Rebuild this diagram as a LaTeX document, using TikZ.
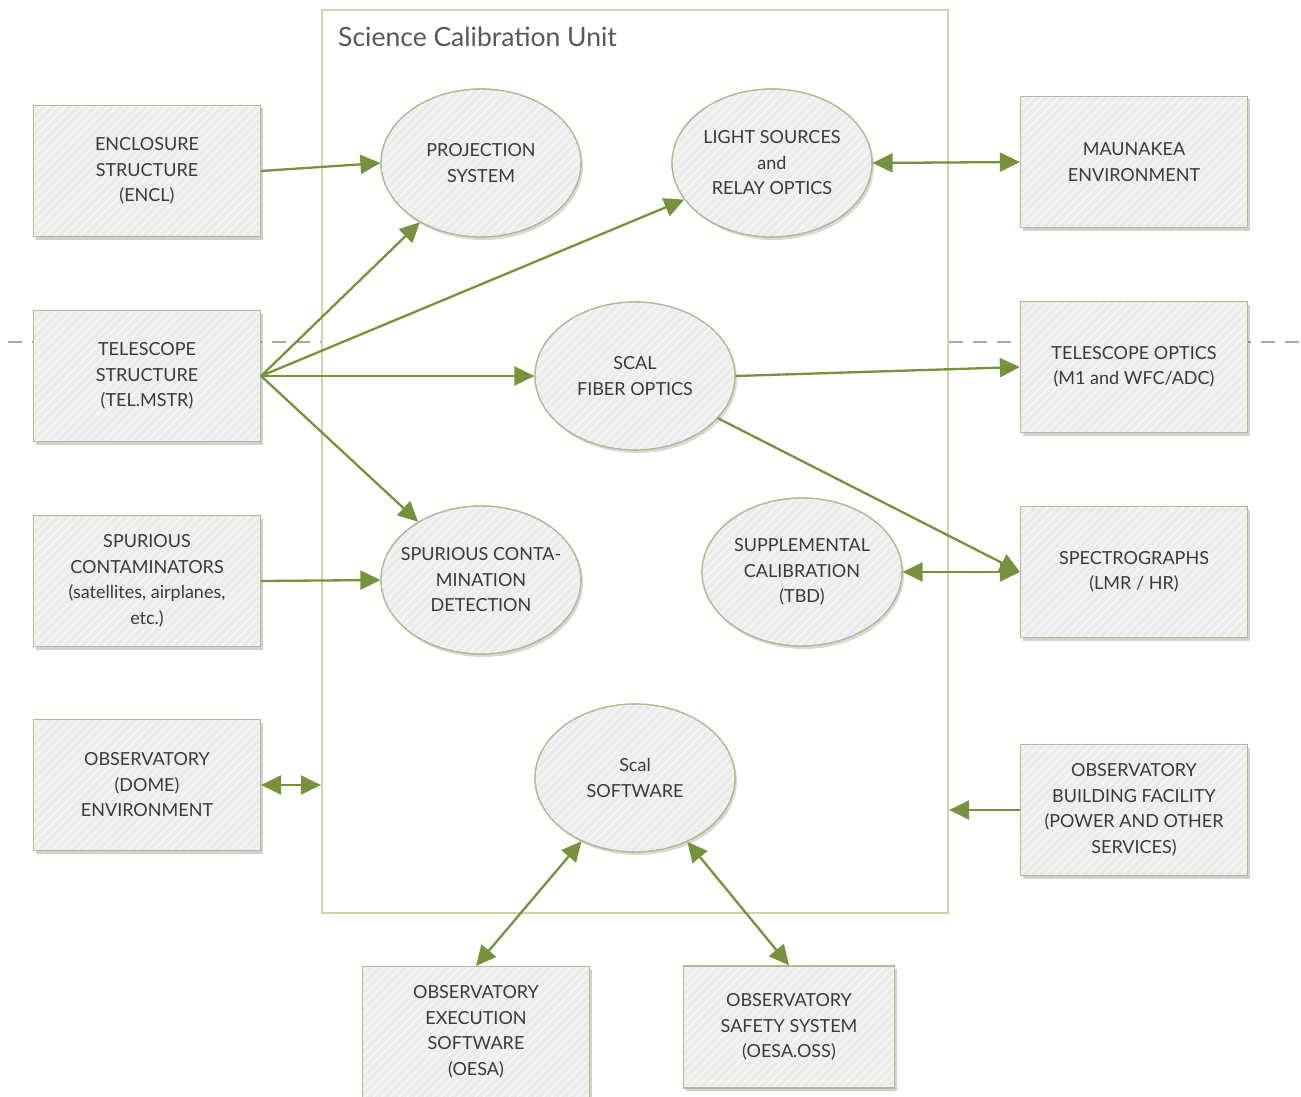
\documentclass[tikz,border=0pt]{standalone}
\usepackage{fontspec}
\setmainfont{Lato}
\usetikzlibrary{arrows.meta,shapes.geometric,shadows,patterns.meta}
\definecolor{arrg}{HTML}{76923C}
\definecolor{scub}{HTML}{CBD5A8}
\definecolor{boxb}{HTML}{B3BA92}
\definecolor{boxf}{HTML}{ECECEC}
\definecolor{txt}{HTML}{3A3A3A}
\definecolor{dashc}{HTML}{A8A8A8}
\tikzset{
  hatch/.style={postaction={pattern={Lines[angle=45, distance=6pt, line width=1.4pt]}, pattern color=white!60!boxf, draw=boxb, line width=1.2pt}},
  extbox/.style={rectangle, draw=boxb, line width=1.2pt, fill=boxf, hatch,
    minimum width=227pt, minimum height=131pt, align=center, text=txt,
    font=\fontsize{18}{25.5}\selectfont,
    drop shadow={shadow xshift=2pt, shadow yshift=-3pt, opacity=0.18, fill=black}},
  func/.style={ellipse, draw=boxb, line width=1.2pt, fill=boxf, hatch,
    minimum width=200pt, minimum height=148pt, inner sep=-30pt, align=center, text=txt,
    font=\fontsize{18}{25.5}\selectfont,
    drop shadow={shadow xshift=2pt, shadow yshift=-3pt, opacity=0.15, fill=black}},
  flow/.style={draw=arrg, line width=2.3pt, -{Triangle[length=20pt,width=19pt]}},
  bflow/.style={draw=arrg, line width=2.3pt, {Triangle[length=20pt,width=19pt]}-{Triangle[length=20pt,width=19pt]}},
  dline/.style={draw=dashc, line width=1.3pt, dash pattern=on 14pt off 10pt}
}
\begin{document}
\begin{tikzpicture}[x=1pt,y=-1pt]
\useasboundingbox (0,0) rectangle (1301,1097);
% Science Calibration Unit frame
\node[rectangle, draw=scub, line width=2.2pt, fill=white, minimum width=626pt, minimum height=903pt, inner sep=0pt] (scu) at (635,461.5) {};
\node[anchor=west, text=txt!85, font=\fontsize{26.5}{30}\selectfont, inner sep=0pt] (title) at (338,37) {Science Calibration Unit};
% dashed line
\coordinate (dl) at (8,342);
\coordinate (dr) at (1301,342);
\draw[dline] (dl) -- (scu.west |- dl);
\draw[dline] (scu.east |- dr) -- (dr);
% left boxes
\node[extbox] (encl) at (147,171) {ENCLOSURE\\STRUCTURE\\(ENCL)};
\node[extbox] (tel) at (147,376) {TELESCOPE\\STRUCTURE\\(TEL.MSTR)};
\node[extbox] (spur) at (147,581) {SPURIOUS\\CONTAMINATORS\\(satellites, airplanes,\\etc.)};
\node[extbox] (dome) at (147,785) {OBSERVATORY\\(DOME)\\ENVIRONMENT};
% right boxes
\node[extbox] (mauna) at (1134,162) {MAUNAKEA\\ENVIRONMENT};
\node[extbox] (telopt) at (1134,367) {TELESCOPE OPTICS\\(M1 and WFC/ADC)};
\node[extbox] (spec) at (1134,572) {SPECTROGRAPHS\\(LMR / HR)};
\node[extbox] (bldg) at (1134,810) {OBSERVATORY\\BUILDING FACILITY\\(POWER AND OTHER\\SERVICES)};
% bottom boxes
\node[extbox] (oesa) at (476,1032) {OBSERVATORY\\EXECUTION\\SOFTWARE\\(OESA)};
\node[extbox, minimum width=211pt, minimum height=122pt] (oss) at (789,1027) {OBSERVATORY\\SAFETY SYSTEM\\(OESA.OSS)};
% ellipses
\node[func] (proj) at (481,163) {PROJECTION\\SYSTEM};
\node[func] (light) at (772,163) {LIGHT SOURCES\\and\\RELAY OPTICS};
\node[func] (fiber) at (635,376) {SCAL\\FIBER OPTICS};
\node[func] (spurc) at (481,580) {SPURIOUS CONTA-\\MINATION\\DETECTION};
\node[func] (supp) at (802,572) {SUPPLEMENTAL\\CALIBRATION\\(TBD)};
\node[func] (sw) at (635,778) {Scal\\SOFTWARE};
% connectors
\draw[flow] (encl.east) -- (proj.west);
\draw[flow] (tel.east) -- (proj);
\draw[flow] (tel.east) -- (light);
\draw[flow] (tel.east) -- (fiber.west);
\draw[flow] (tel.east) -- (spurc);
\draw[bflow] (light.east) -- (mauna.west);
\draw[flow] (fiber.east) -- (telopt.west);
\draw[flow] (fiber) -- (spec.west);
\draw[bflow] (supp.east) -- (spec.west);
\draw[flow] (spur.east) -- (spurc.west);
\draw[bflow] (dome.east) -- (dome.east -| scu.west);
\draw[flow] (bldg.west) -- (bldg.west -| scu.east);
\draw[bflow] (sw) -- (oesa.north);
\draw[bflow] (sw) -- (oss.north);
\end{tikzpicture}
\end{document}
